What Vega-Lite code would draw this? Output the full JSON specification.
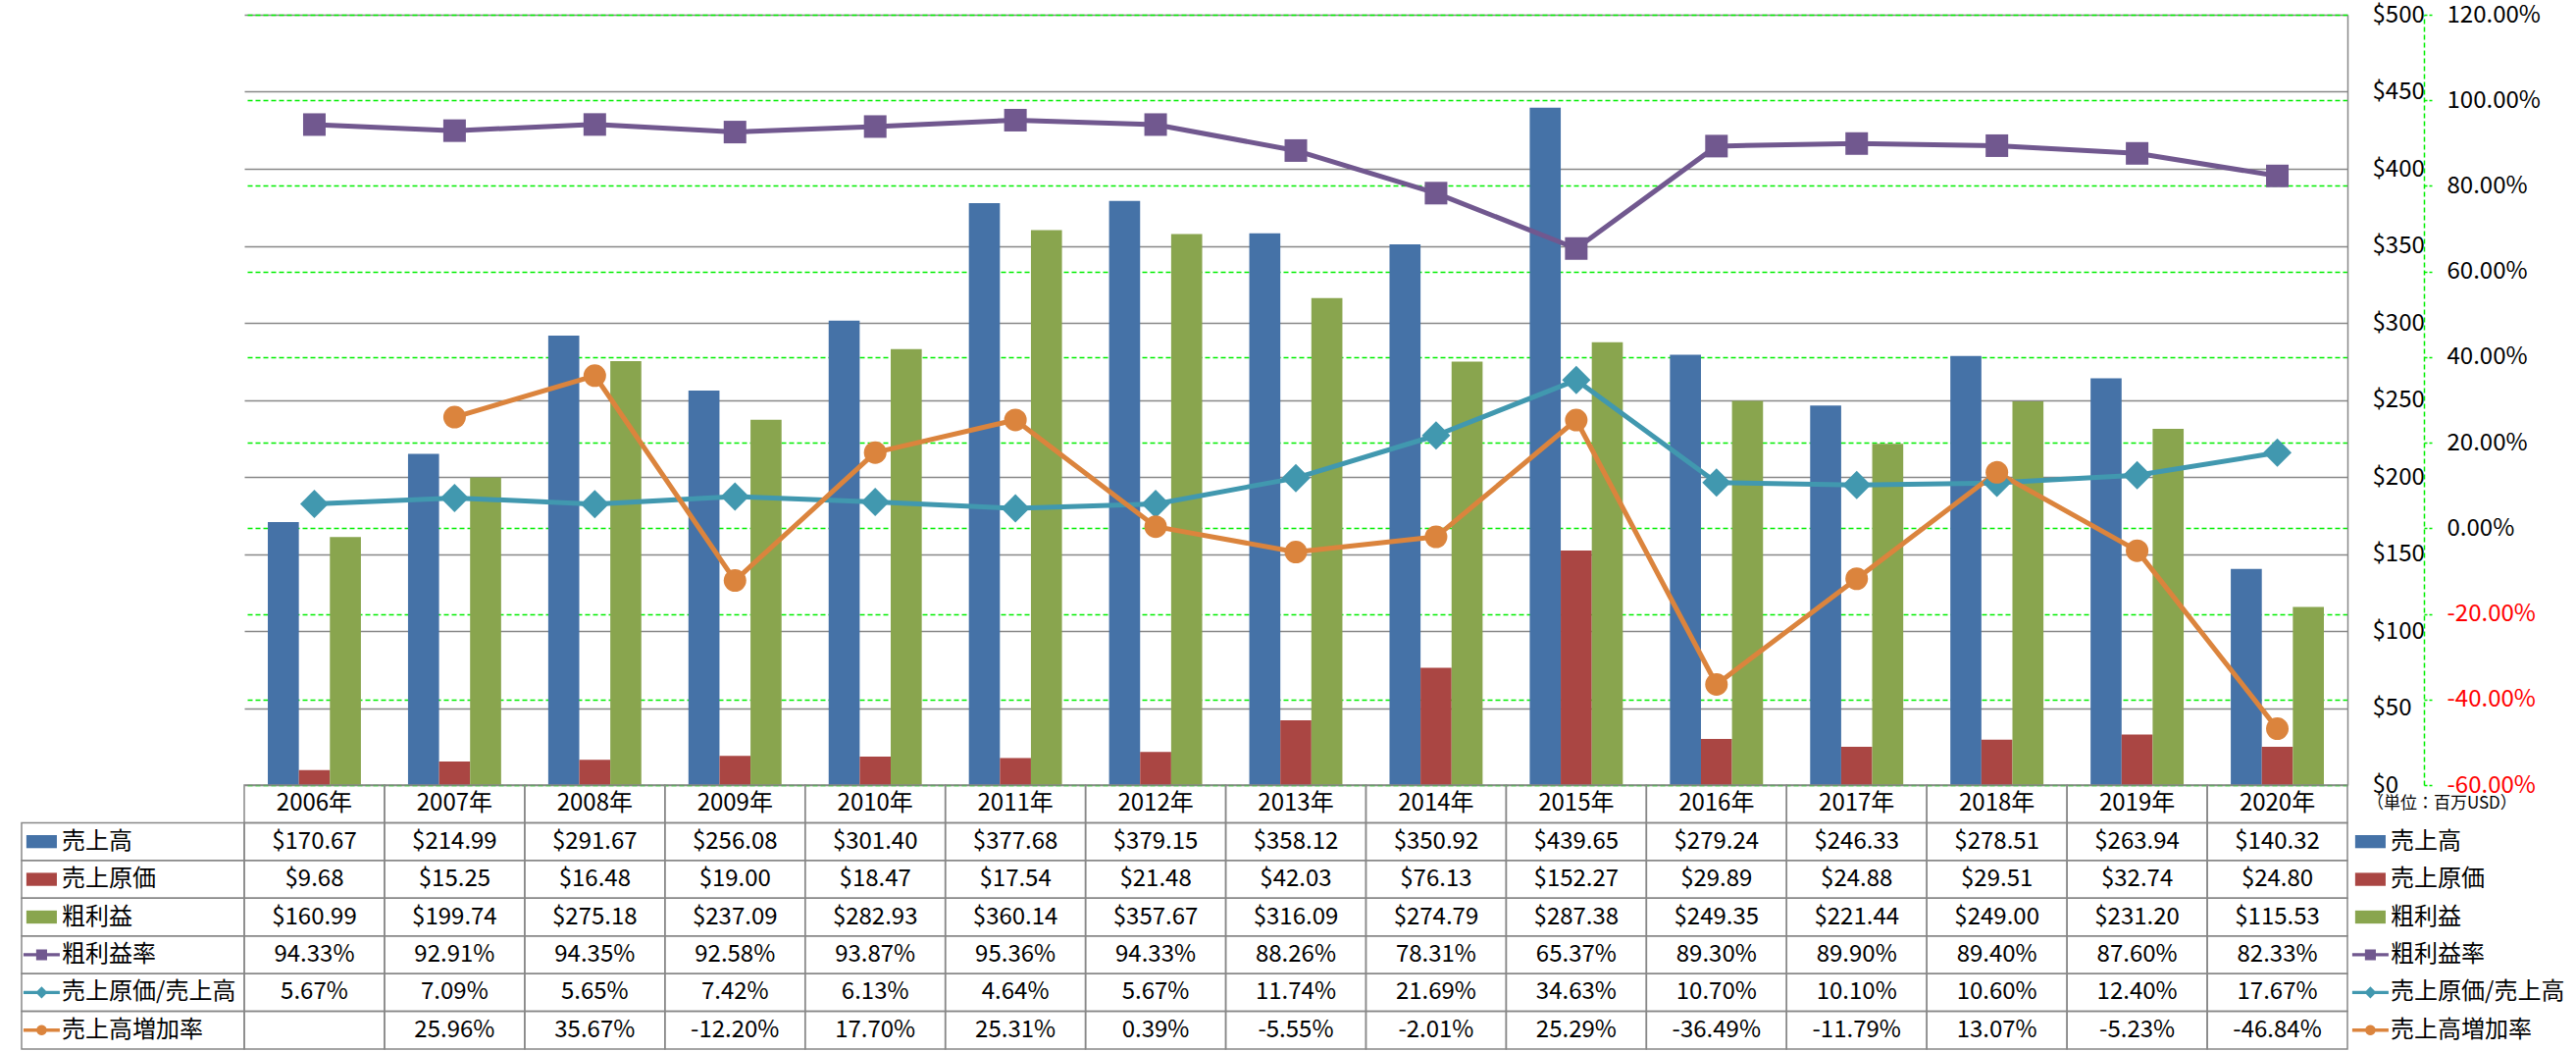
{
  "$schema": "https://vega.github.io/schema/vega-lite/v6.json",
  "background": "white",
  "padding": {"left": 21, "top": 3, "right": 0, "bottom": 2},
  "datasets": {
    "fin": [
      {"year": "2006年", "売上高": 170.67, "売上原価": 9.68, "粗利益": 160.99, "粗利益率": 0.9433, "売上原価/売上高": 0.0567, "売上高増加率": null},
      {"year": "2007年", "売上高": 214.99, "売上原価": 15.25, "粗利益": 199.74, "粗利益率": 0.9291, "売上原価/売上高": 0.0709, "売上高増加率": 0.2596},
      {"year": "2008年", "売上高": 291.67, "売上原価": 16.48, "粗利益": 275.18, "粗利益率": 0.9435, "売上原価/売上高": 0.0565, "売上高増加率": 0.3567},
      {"year": "2009年", "売上高": 256.08, "売上原価": 19.00, "粗利益": 237.09, "粗利益率": 0.9258, "売上原価/売上高": 0.0742, "売上高増加率": -0.1220},
      {"year": "2010年", "売上高": 301.40, "売上原価": 18.47, "粗利益": 282.93, "粗利益率": 0.9387, "売上原価/売上高": 0.0613, "売上高増加率": 0.1770},
      {"year": "2011年", "売上高": 377.68, "売上原価": 17.54, "粗利益": 360.14, "粗利益率": 0.9536, "売上原価/売上高": 0.0464, "売上高増加率": 0.2531},
      {"year": "2012年", "売上高": 379.15, "売上原価": 21.48, "粗利益": 357.67, "粗利益率": 0.9433, "売上原価/売上高": 0.0567, "売上高増加率": 0.0039},
      {"year": "2013年", "売上高": 358.12, "売上原価": 42.03, "粗利益": 316.09, "粗利益率": 0.8826, "売上原価/売上高": 0.1174, "売上高増加率": -0.0555},
      {"year": "2014年", "売上高": 350.92, "売上原価": 76.13, "粗利益": 274.79, "粗利益率": 0.7831, "売上原価/売上高": 0.2169, "売上高増加率": -0.0201},
      {"year": "2015年", "売上高": 439.65, "売上原価": 152.27, "粗利益": 287.38, "粗利益率": 0.6537, "売上原価/売上高": 0.3463, "売上高増加率": 0.2529},
      {"year": "2016年", "売上高": 279.24, "売上原価": 29.89, "粗利益": 249.35, "粗利益率": 0.8930, "売上原価/売上高": 0.1070, "売上高増加率": -0.3649},
      {"year": "2017年", "売上高": 246.33, "売上原価": 24.88, "粗利益": 221.44, "粗利益率": 0.8990, "売上原価/売上高": 0.1010, "売上高増加率": -0.1179},
      {"year": "2018年", "売上高": 278.51, "売上原価": 29.51, "粗利益": 249.00, "粗利益率": 0.8940, "売上原価/売上高": 0.1060, "売上高増加率": 0.1307},
      {"year": "2019年", "売上高": 263.94, "売上原価": 32.74, "粗利益": 231.20, "粗利益率": 0.8760, "売上原価/売上高": 0.1240, "売上高増加率": -0.0523},
      {"year": "2020年", "売上高": 140.32, "売上原価": 24.80, "粗利益": 115.53, "粗利益率": 0.8233, "売上原価/売上高": 0.1767, "売上高増加率": -0.4684}
    ]
  },
  "columns": 3,
  "spacing": 0,
  "bounds": "flush",
  "align": "each",
  "resolve": {"scale": {"color": "independent", "shape": "independent"}},
  "concat": [
    {
      "width": 227,
      "height": 785,
      "data": {"values": [{"t": ""}]},
      "mark": {"type": "text"},
      "encoding": {"text": {"field": "t", "type": "nominal"}}
    },
    {
      "width": 2144,
      "height": 785,
      "data": {"name": "fin"},
      "layer": [
        {
          "transform": [{"fold": ["売上高", "売上原価", "粗利益"], "as": ["series", "value"]}],
          "mark": {"type": "bar"},
          "encoding": {
            "x": {"field": "year", "type": "nominal", "axis": null, "scale": {"paddingInner": 0.336, "paddingOuter": 0.168}},
            "xOffset": {"field": "series", "type": "nominal", "sort": ["売上高", "売上原価", "粗利益"], "scale": {"paddingInner": 0, "paddingOuter": 0}},
            "y": {
              "field": "value", "type": "quantitative",
              "scale": {"domain": [0, 500], "nice": false},
              "axis": {
                "orient": "right", "title": null,
                "values": [0, 50, 100, 150, 200, 250, 300, 350, 400, 450, 500],
                "format": "$.0f", "labelAlign": "left", "labelPadding": 25,
                "labelFontSize": 24, "labelColor": "black",
                "ticks": false, "domain": true, "domainColor": "#888888", "domainWidth": 1.5,
                "grid": true, "gridColor": "#888888", "gridWidth": 1.5
              }
            },
            "color": {
              "field": "series", "type": "nominal", "legend": null,
              "scale": {
                "domain": ["売上高", "売上原価", "粗利益", "粗利益率", "売上原価/売上高", "売上高増加率"],
                "range": ["#4572A7", "#AA4643", "#89A54E", "#71588F", "#4198AF", "#DB843D"]
              }
            }
          }
        },
        {
          "transform": [
            {"fold": ["粗利益率", "売上原価/売上高", "売上高増加率"], "as": ["series", "value"]},
            {"filter": "isValid(datum.value)"}
          ],
          "encoding": {
            "x": {"field": "year", "type": "nominal", "axis": null},
            "y": {
              "field": "value", "type": "quantitative",
              "scale": {"domain": [-0.6, 1.2], "nice": false},
              "axis": {
                "orient": "right", "offset": 78, "title": null,
                "values": [-0.6, -0.4, -0.2, 0, 0.2, 0.4, 0.6, 0.8, 1, 1.2],
                "format": ".2%", "labelAlign": "left", "labelPadding": 15,
                "labelFontSize": 24,
                "labelColor": {"condition": {"test": "datum.value < 0", "value": "#FF0000"}, "value": "black"},
                "ticks": true, "tickSize": 8, "tickColor": "#00EE00", "tickDash": [3, 2], "tickWidth": 1.5,
                "domain": true, "domainColor": "#00EE00", "domainDash": [5, 3], "domainWidth": 1.5,
                "grid": true, "gridColor": "#00EE00", "gridDash": [5, 3], "gridWidth": 1.5
              }
            },
            "color": {"field": "series", "type": "nominal", "legend": null}
          },
          "layer": [
            {"mark": {"type": "line", "strokeWidth": 5, "strokeJoin": "round", "strokeCap": "round"}},
            {
              "transform": [{"filter": "datum.series === '粗利益率'"}],
              "mark": {"type": "point", "filled": true, "opacity": 1, "shape": "square", "size": 529}
            },
            {
              "transform": [{"filter": "datum.series === '売上原価/売上高'"}],
              "mark": {"type": "point", "filled": true, "opacity": 1, "shape": "diamond", "size": 841}
            },
            {
              "transform": [{"filter": "datum.series === '売上高増加率'"}],
              "mark": {"type": "point", "filled": true, "opacity": 1, "shape": "circle", "size": 529}
            }
          ]
        }
      ],
      "resolve": {"scale": {"y": "independent"}}
    },
    {
      "width": 234,
      "height": 785,
      "data": {"values": [{"t": ""}]},
      "mark": {"type": "text"},
      "encoding": {"text": {"field": "t", "type": "nominal"}}
    },
    {
      "width": 227,
      "height": 269,
      "data": {"name": "fin"},
      "transform": [
        {"filter": "datum.year === '2006年'"},
        {"fold": ["売上高", "売上原価", "粗利益", "粗利益率", "売上原価/売上高", "売上高増加率"], "as": ["series", "value"]}
      ],
      "encoding": {
        "y": {"field": "series", "type": "nominal", "axis": null,
          "scale": {"domain": ["year", "売上高", "売上原価", "粗利益", "粗利益率", "売上原価/売上高", "売上高増加率"], "paddingInner": 0, "paddingOuter": 0}}
      },
      "layer": [
        {
          "mark": {"type": "rect", "fill": "transparent", "stroke": "#888888", "strokeWidth": 1.5},
          "encoding": {
            "x": {"field": "year", "type": "nominal", "axis": null, "scale": {"type": "band", "paddingInner": 0, "paddingOuter": 0}}
          }
        },
        {
          "mark": {"type": "point", "filled": true, "opacity": 1, "size": 1369, "strokeWidth": 0},
          "encoding": {
            "x": {"field": "year", "type": "nominal", "axis": null, "bandPosition": 0.09},
            "color": {
              "field": "series", "type": "nominal", "legend": null,
              "scale": {
                "domain": ["売上高", "売上原価", "粗利益", "粗利益率", "売上原価/売上高", "売上高増加率"],
                "range": ["#4572A7", "#AA4643", "#89A54E", "#71588F", "#4198AF", "#DB843D"]
              }
            },
            "shape": {
              "field": "series", "type": "nominal", "legend": null,
              "scale": {
                "domain": ["売上高", "売上原価", "粗利益", "粗利益率", "売上原価/売上高", "売上高増加率"],
                "range": [
                  "M-0.84,-0.36L0.84,-0.36L0.84,0.36L-0.84,0.36Z",
                  "M-0.84,-0.36L0.84,-0.36L0.84,0.36L-0.84,0.36Z",
                  "M-0.84,-0.36L0.84,-0.36L0.84,0.36L-0.84,0.36Z",
                  "M-1,-0.09L-0.3,-0.09L-0.3,-0.3L0.3,-0.3L0.3,-0.09L1,-0.09L1,0.09L0.3,0.09L0.3,0.3L-0.3,0.3L-0.3,0.09L-1,0.09Z",
                  "M-1,-0.09L-0.24,-0.09L0,-0.33L0.24,-0.09L1,-0.09L1,0.09L0.24,0.09L0,0.33L-0.24,0.09L-1,0.09Z",
                  "M-1,-0.09L-0.27,-0.09A0.285,0.285,0,0,1,0.27,-0.09L1,-0.09L1,0.09L0.27,0.09A0.285,0.285,0,0,1,-0.27,0.09L-1,0.09Z"
                ]
              }
            }
          }
        },
        {
          "mark": {"type": "text", "fontSize": 24, "color": "black", "baseline": "middle", "align": "left"},
          "encoding": {
            "x": {"field": "year", "type": "nominal", "axis": null, "bandPosition": 0.181},
            "text": {"field": "series", "type": "nominal"}
          }
        }
      ]
    },
    {
      "width": 2144,
      "height": 269,
      "data": {"name": "fin"},
      "encoding": {
        "x": {"field": "year", "type": "nominal", "axis": null, "scale": {"paddingInner": 0, "paddingOuter": 0}},
        "y": {"field": "series", "type": "nominal", "axis": null,
          "scale": {"domain": ["year", "売上高", "売上原価", "粗利益", "粗利益率", "売上原価/売上高", "売上高増加率"], "paddingInner": 0, "paddingOuter": 0}}
      },
      "layer": [
        {
          "transform": [{"fold": ["year", "売上高", "売上原価", "粗利益", "粗利益率", "売上原価/売上高", "売上高増加率"], "as": ["series", "value"]}],
          "mark": {"type": "rect", "fill": "transparent", "stroke": "#888888", "strokeWidth": 1.5}
        },
        {
          "transform": [{"fold": ["year"], "as": ["series", "value"]}],
          "mark": {"type": "text", "fontSize": 24, "color": "black", "baseline": "middle", "align": "center"},
          "encoding": {"text": {"field": "value", "type": "nominal"}}
        },
        {
          "transform": [{"fold": ["売上高", "売上原価", "粗利益"], "as": ["series", "value"]}],
          "mark": {"type": "text", "fontSize": 24, "color": "black", "baseline": "middle", "align": "center"},
          "encoding": {"text": {"field": "value", "type": "quantitative", "format": "$.2f"}}
        },
        {
          "transform": [
            {"fold": ["粗利益率", "売上原価/売上高", "売上高増加率"], "as": ["series", "value"]},
            {"filter": "isValid(datum.value)"}
          ],
          "mark": {"type": "text", "fontSize": 24, "color": "black", "baseline": "middle", "align": "center"},
          "encoding": {"text": {"field": "value", "type": "quantitative", "format": ".2%"}}
        }
      ]
    },
    {
      "width": 234,
      "height": 269,
      "data": {"name": "fin"},
      "transform": [
        {"filter": "datum.year === '2006年'"},
        {"fold": ["year", "売上高", "売上原価", "粗利益", "粗利益率", "売上原価/売上高", "売上高増加率"], "as": ["series", "value"]}
      ],
      "encoding": {
        "y": {"field": "series", "type": "nominal", "axis": null,
          "scale": {"domain": ["year", "売上高", "売上原価", "粗利益", "粗利益率", "売上原価/売上高", "売上高増加率"], "paddingInner": 0, "paddingOuter": 0}}
      },
      "layer": [
        {
          "transform": [{"filter": "datum.series === 'year'"}],
          "mark": {"type": "text", "text": "（単位：百万USD）", "fontSize": 17, "color": "black", "baseline": "middle", "align": "left"},
          "encoding": {
            "x": {"field": "year", "type": "nominal", "axis": null, "bandPosition": 0.085, "scale": {"type": "band", "paddingInner": 0, "paddingOuter": 0}},
            "y": {"field": "series", "type": "nominal", "axis": null, "bandPosition": 0.75}
          }
        },
        {
          "transform": [{"filter": "datum.series !== 'year'"}],
          "mark": {"type": "point", "filled": true, "opacity": 1, "size": 1369, "strokeWidth": 0},
          "encoding": {
            "x": {"field": "year", "type": "nominal", "axis": null, "bandPosition": 0.1, "scale": {"type": "band", "paddingInner": 0, "paddingOuter": 0}},
            "color": {
              "field": "series", "type": "nominal", "legend": null,
              "scale": {
                "domain": ["売上高", "売上原価", "粗利益", "粗利益率", "売上原価/売上高", "売上高増加率"],
                "range": ["#4572A7", "#AA4643", "#89A54E", "#71588F", "#4198AF", "#DB843D"]
              }
            },
            "shape": {
              "field": "series", "type": "nominal", "legend": null,
              "scale": {
                "domain": ["売上高", "売上原価", "粗利益", "粗利益率", "売上原価/売上高", "売上高増加率"],
                "range": [
                  "M-0.84,-0.36L0.84,-0.36L0.84,0.36L-0.84,0.36Z",
                  "M-0.84,-0.36L0.84,-0.36L0.84,0.36L-0.84,0.36Z",
                  "M-0.84,-0.36L0.84,-0.36L0.84,0.36L-0.84,0.36Z",
                  "M-1,-0.09L-0.3,-0.09L-0.3,-0.3L0.3,-0.3L0.3,-0.09L1,-0.09L1,0.09L0.3,0.09L0.3,0.3L-0.3,0.3L-0.3,0.09L-1,0.09Z",
                  "M-1,-0.09L-0.24,-0.09L0,-0.33L0.24,-0.09L1,-0.09L1,0.09L0.24,0.09L0,0.33L-0.24,0.09L-1,0.09Z",
                  "M-1,-0.09L-0.27,-0.09A0.285,0.285,0,0,1,0.27,-0.09L1,-0.09L1,0.09L0.27,0.09A0.285,0.285,0,0,1,-0.27,0.09L-1,0.09Z"
                ]
              }
            }
          }
        },
        {
          "transform": [{"filter": "datum.series !== 'year'"}],
          "mark": {"type": "text", "fontSize": 24, "color": "black", "baseline": "middle", "align": "left"},
          "encoding": {
            "x": {"field": "year", "type": "nominal", "axis": null, "bandPosition": 0.188, "scale": {"type": "band", "paddingInner": 0, "paddingOuter": 0}},
            "text": {"field": "series", "type": "nominal"}
          }
        }
      ]
    }
  ],
  "config": {
    "view": {"stroke": null},
    "font": "Noto Sans CJK JP",
    "axis": {"labelFont": "Noto Sans CJK JP"},
    "text": {"font": "Noto Sans CJK JP"},
    "locale": {"number": {"decimal": ".", "thousands": ",", "grouping": [3], "currency": ["$", ""], "minus": "-"}}
  }
}
